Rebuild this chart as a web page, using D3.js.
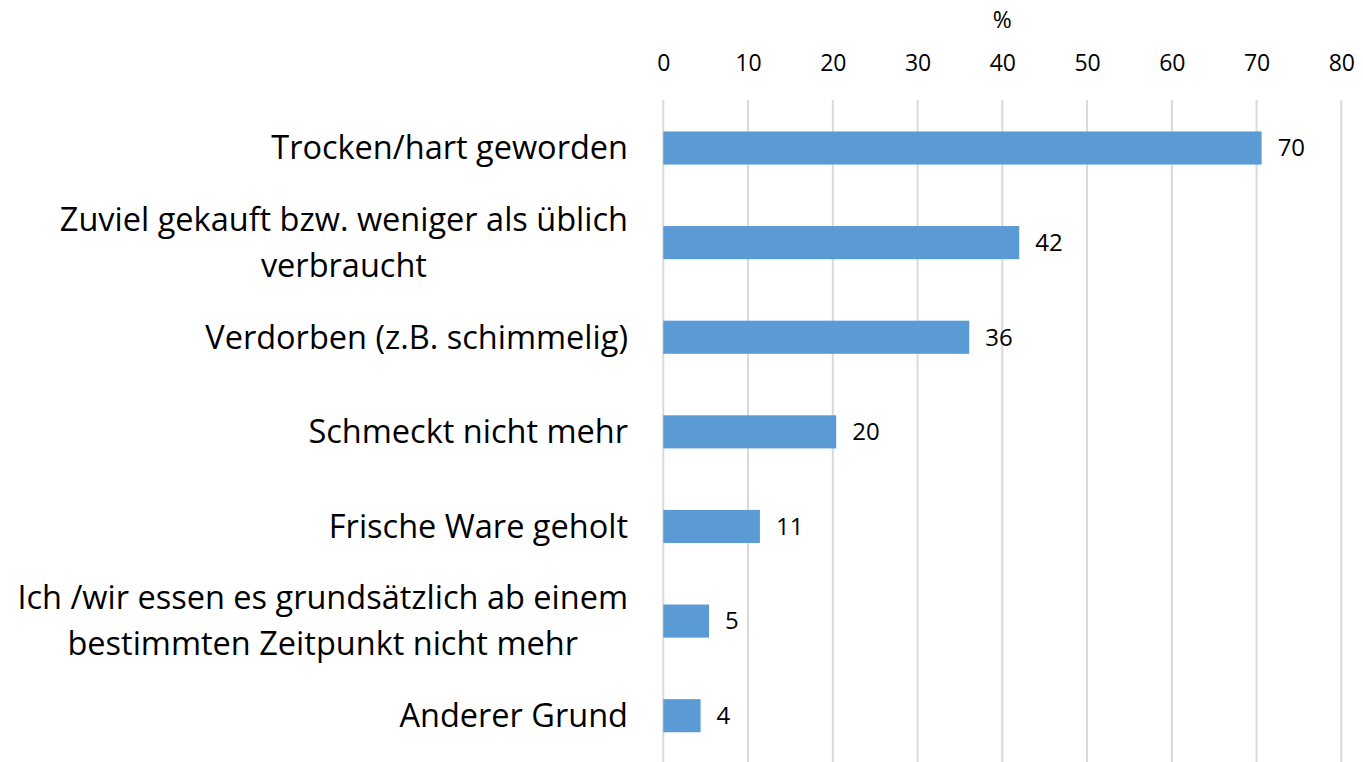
<!DOCTYPE html>
<html><head><meta charset="utf-8">
<script src="https://cdn.jsdelivr.net/npm/d3@7"></script>
<style>body{margin:0;background:#fff;} text{font-family:"Open Sans",sans-serif;}</style>
</head><body>
<svg id="c" width="1363" height="762"></svg>
<script>
const categories = [
  ["Trocken/hart geworden"],
  ["Zuviel gekauft bzw. weniger als üblich", "verbraucht"],
  ["Verdorben (z.B. schimmelig)"],
  ["Schmeckt nicht mehr"],
  ["Frische Ware geholt"],
  ["Ich /wir essen es grundsätzlich ab einem", "bestimmten Zeitpunkt nicht mehr"],
  ["Anderer Grund"]
];
const values = [70.6, 42.0, 36.1, 20.4, 11.4, 5.4, 4.4];
const ticks = [0, 10, 20, 30, 40, 50, 60, 70, 80];
const axisTitle = "%";

const svg = d3.select("#c");
const x = d3.scaleLinear().domain([0, 80]).range([663.3, 1341.3]);
const y = d3.scaleBand().domain(d3.range(categories.length)).range([100.7, 763]).paddingInner(0.65).paddingOuter(0.325);

// gridlines
svg.append("g").selectAll("line").data(ticks).join("line")
  .attr("x1", d => x(d)).attr("x2", d => x(d))
  .attr("y1", 100).attr("y2", 762)
  .attr("stroke", "#d9d9d9").attr("stroke-width", 2);

// top axis labels
const ax = svg.append("g").attr("transform", "translate(0,63)")
  .call(d3.axisTop(x).tickValues(ticks).tickSize(0).tickPadding(0));
ax.select(".domain").remove();
ax.selectAll("text").attr("font-size", 23).attr("fill", "#000").attr("dy", "0.35em")
  .attr("font-family", "Open Sans, sans-serif");

svg.append("text").attr("x", x(40)).attr("y", 20).attr("dy", "0.35em")
  .attr("text-anchor", "middle").attr("font-size", 23).text(axisTitle);

// bars
svg.append("g").selectAll("rect").data(values).join("rect")
  .attr("x", x(0)).attr("y", (d, i) => y(i))
  .attr("width", d => x(d) - x(0)).attr("height", y.bandwidth())
  .attr("fill", "#5b9bd5");

// value labels
svg.append("g").selectAll("text").data(values).join("text")
  .attr("x", d => x(d) + 16).attr("y", (d, i) => y(i) + y.bandwidth() / 2)
  .attr("dy", "0.35em").attr("font-size", 24).text(d => Math.floor(d));

// category labels
const lineH = 46;
const g = svg.append("g");
categories.forEach((lines, i) => {
  const cy = y(i) + y.bandwidth() / 2;
  const t = g.append("text").attr("font-size", 32.5).attr("fill", "#000");
  const n = lines.length;
  lines.forEach((l, j) => {
    t.append("tspan").attr("y", cy + (j - (n - 1) / 2) * lineH).attr("dy", "0.35em").text(l);
  });
  const widths = [];
  t.selectAll("tspan").each(function () { widths.push(this.getComputedTextLength()); });
  const maxW = d3.max(widths);
  const center = 628 - maxW / 2;
  t.attr("text-anchor", "middle").selectAll("tspan").attr("x", center);
});
</script>
</body></html>
